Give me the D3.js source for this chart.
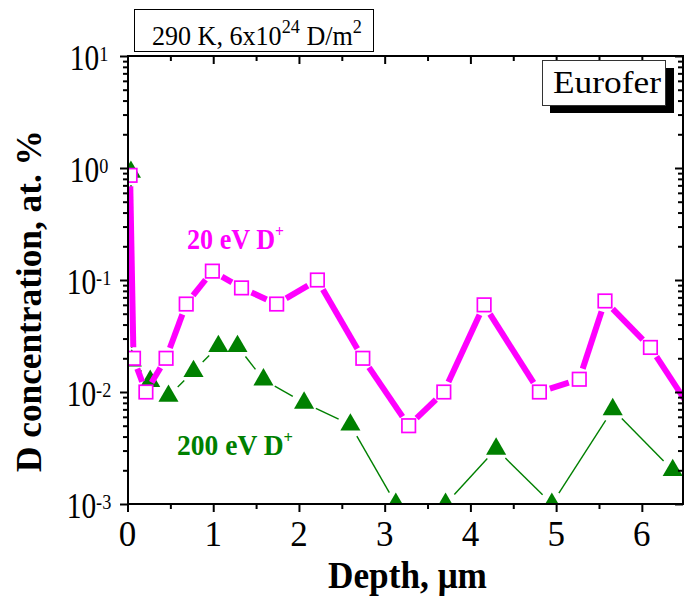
<!DOCTYPE html>
<html>
<head>
<meta charset="utf-8">
<script src="https://cdn.jsdelivr.net/npm/d3@7"></script>
<style>
  body { margin: 0; background: #fff; }
  svg { display: block; }
</style>
</head>
<body>
<svg id="chart" width="684" height="603"></svg>
<script>
// Deuterium depth profiles in Eurofer, 290 K, 6x10^24 D/m^2
const depth20 = [0.03, 0.07, 0.215, 0.45, 0.685, 0.99, 1.33, 1.74, 2.215, 2.745, 3.28, 3.69, 4.16, 4.805, 5.27, 5.57, 6.10, 6.65];
const conc20  = [0.86, 0.020, 0.010, 0.020, 0.061, 0.12, 0.085, 0.061, 0.10, 0.020, 0.005, 0.010, 0.060, 0.010, 0.013, 0.065, 0.025, 0.0057];

const depth200 = [0.04, 0.05, 0.265, 0.478, 0.77, 1.06, 1.283, 1.586, 2.06, 2.60, 3.13, 3.71, 4.30, 4.95, 5.66, 6.36];
const conc200  = [0.92, 0.019, 0.0125, 0.0092, 0.0153, 0.0256, 0.0256, 0.0129, 0.0080, 0.0051, 0.0010, 0.0010, 0.0031, 0.0010, 0.0070, 0.0020];

const xTicks = [0, 1, 2, 3, 4, 5, 6];
const xMinorTicks = [0.5, 1.5, 2.5, 3.5, 4.5, 5.5, 6.5];
const yTickExponents = [-3, -2, -1, 0, 1];

const xTitle = "Depth, \u03bcm";
const yTitle = "D concentration, at. %";
const conditionsLabel = [{t: "290 K, 6x10"}, {t: "24", sup: true}, {t: " D/m"}, {t: "2", sup: true}];
const materialLabel = "Eurofer";
const label20 = [{t: "20 eV D"}, {t: "+", sup: true}];
const label200 = [{t: "200 eV D"}, {t: "+", sup: true}];

const MAGENTA = "#ff00ff";
const GREEN = "#008000";
const SERIF = "'Liberation Serif', 'Times New Roman', serif";

const svg = d3.select("#chart");
const plot = {left: 128, right: 683, top: 56, bottom: 504};

const x = d3.scaleLinear().domain([0, 6.48]).range([127.5, 683]);
const y = d3.scaleLog().domain([1e-3, 10]).range([plot.bottom, plot.top]);

// text helper: builds a label from plain / superscript parts and fits it to a width
function label(parent, parts, opt) {
  const size = opt.size;
  const g = parent.append("g");
  const t = g.append("text")
    .attr("font-family", SERIF)
    .attr("font-size", size)
    .attr("font-weight", opt.weight || "normal")
    .attr("fill", opt.fill || "#000");
  let shift = 0;
  parts.forEach(p => {
    const target = p.sup ? -(opt.supShift || 0.42) * size : 0;
    t.append("tspan")
      .attr("font-size", p.sup ? size * (opt.supScale || 0.62) : size)
      .attr("dy", target - shift)
      .text(p.t);
    shift = target;
  });
  const w = t.node().getComputedTextLength();
  const s = opt.width ? opt.width / w : (opt.sx || 1);
  let left;
  if (opt.anchor === "middle") left = opt.x - (w * s) / 2;
  else if (opt.anchor === "end") left = opt.x - w * s;
  else left = opt.x;
  if (opt.rotate) {
    g.attr("transform", `translate(${opt.x},${opt.y}) rotate(${opt.rotate}) translate(${-(w * s) / 2},0) scale(${s},1)`);
  } else {
    g.attr("transform", `translate(${left},${opt.y}) scale(${s},1)`);
  }
  return g;
}

// clip region for the data
svg.append("defs").append("clipPath").attr("id", "plotClip")
  .append("rect")
  .attr("x", plot.left).attr("y", plot.top)
  .attr("width", plot.right - plot.left).attr("height", plot.bottom - plot.top);

const dataLayer = svg.append("g").attr("clip-path", "url(#plotClip)");

// connecting segments that stop short of each marker
function gappedSegments(xs, ys, gap) {
  const pts = xs.map((d, i) => [x(d), y(ys[i])]);
  const segs = [];
  for (let i = 0; i < pts.length - 1; i++) {
    const [x0, y0] = pts[i], [x1, y1] = pts[i + 1];
    const dx = x1 - x0, dy = y1 - y0, L = Math.hypot(dx, dy);
    if (L <= 2 * gap) continue;
    const ux = dx / L, uy = dy / L;
    segs.push([x0 + ux * gap, y0 + uy * gap, x1 - ux * gap, y1 - uy * gap]);
  }
  return segs;
}

// 200 eV series
dataLayer.append("g").selectAll("line")
  .data(gappedSegments(depth200, conc200, 13))
  .join("line")
  .attr("x1", d => d[0]).attr("y1", d => d[1])
  .attr("x2", d => d[2]).attr("y2", d => d[3])
  .attr("stroke", GREEN).attr("stroke-width", 1.4);

dataLayer.append("g").selectAll("path")
  .data(depth200.map((d, i) => [d, conc200[i]]))
  .join("path")
  .attr("transform", d => `translate(${x(d[0])},${y(d[1])})`)
  .attr("d", d3.symbol(d3.symbolTriangle, 175))
  .attr("fill", GREEN);

// 20 eV series
dataLayer.append("g").selectAll("line")
  .data(gappedSegments(depth20, conc20, 11))
  .join("line")
  .attr("x1", d => d[0]).attr("y1", d => d[1])
  .attr("x2", d => d[2]).attr("y2", d => d[3])
  .attr("stroke", MAGENTA).attr("stroke-width", 6);

const SQ = 13.5;
dataLayer.append("g").selectAll("rect")
  .data(depth20.map((d, i) => [d, conc20[i]]))
  .join("rect")
  .attr("x", d => x(d[0]) - SQ / 2).attr("y", d => y(d[1]) - SQ / 2)
  .attr("width", SQ).attr("height", SQ)
  .attr("fill", "#fff").attr("stroke", MAGENTA).attr("stroke-width", 1.7);

// axes
const minorY = [];
for (let e = -3; e < 1; e++) for (let m = 2; m <= 9; m++) minorY.push(m * Math.pow(10, e));
const majorY = yTickExponents.map(e => Math.pow(10, e));

function styleAxis(g) {
  g.select(".domain").remove();
  g.selectAll("line").attr("stroke", "#000").attr("stroke-width", 2);
  g.selectAll("text").remove();
}

svg.append("g").attr("transform", `translate(0,${plot.bottom})`)
  .call(d3.axisBottom(x).tickValues(xTicks).tickSize(8).tickSizeOuter(0)).call(styleAxis);
svg.append("g").attr("transform", `translate(0,${plot.bottom})`)
  .call(d3.axisBottom(x).tickValues(xMinorTicks.filter(v => x(v) < plot.right)).tickSize(5).tickSizeOuter(0)).call(styleAxis);
svg.append("g").attr("transform", `translate(0,${plot.top})`)
  .call(d3.axisTop(x).tickValues(xTicks).tickSize(-8).tickSizeOuter(0)).call(styleAxis);
svg.append("g").attr("transform", `translate(0,${plot.top})`)
  .call(d3.axisTop(x).tickValues(xMinorTicks.filter(v => x(v) < plot.right)).tickSize(-5).tickSizeOuter(0)).call(styleAxis);

svg.append("g").attr("transform", `translate(${plot.left},0)`)
  .call(d3.axisLeft(y).tickValues(majorY).tickSize(8).tickSizeOuter(0)).call(styleAxis);
svg.append("g").attr("transform", `translate(${plot.left},0)`)
  .call(d3.axisLeft(y).tickValues(minorY).tickSize(5).tickSizeOuter(0)).call(styleAxis);
svg.append("g").attr("transform", `translate(${plot.right},0)`)
  .call(d3.axisRight(y).tickValues(majorY).tickSize(-8).tickSizeOuter(0)).call(styleAxis);
svg.append("g").attr("transform", `translate(${plot.right},0)`)
  .call(d3.axisRight(y).tickValues(minorY).tickSize(-5).tickSizeOuter(0)).call(styleAxis);

// frame
svg.append("rect")
  .attr("x", plot.left).attr("y", plot.top)
  .attr("width", plot.right - plot.left).attr("height", plot.bottom - plot.top)
  .attr("fill", "none").attr("stroke", "#000").attr("stroke-width", 2);

// tick labels
xTicks.forEach(v => {
  label(svg, [{t: String(v)}], {x: x(v), y: 546, size: 35, anchor: "middle"});
});
yTickExponents.forEach(e => {
  label(svg, [{t: "10"}, {t: String(e), sup: true}],
    {x: 89, y: y(Math.pow(10, e)) + 14, size: 35, anchor: "middle", sx: 0.84, supScale: 0.62, supShift: 0.26});
});

// axis titles
label(svg, [{t: xTitle}], {x: 328, y: 588, size: 37, weight: "bold", width: 159});
label(svg, [{t: yTitle}], {x: 41, y: 301, size: 35, weight: "bold", width: 342, rotate: -90});

// series labels
label(svg, label20, {x: 187, y: 249, size: 29, weight: "bold", fill: MAGENTA, width: 97, supShift: 0.4, supScale: 0.6});
label(svg, label200, {x: 177, y: 455, size: 29, weight: "bold", fill: GREEN, width: 116, supShift: 0.4, supScale: 0.6});

// conditions box
svg.append("rect")
  .attr("x", 134.5).attr("y", 9.5).attr("width", 239).attr("height", 42)
  .attr("fill", "#fff").attr("stroke", "#000").attr("stroke-width", 1);
label(svg, conditionsLabel, {x: 152, y: 45, size: 27, width: 210, supScale: 0.7, supShift: 0.46});

// material box with drop shadow
svg.append("rect")
  .attr("x", 550).attr("y", 68).attr("width", 124).attr("height", 45)
  .attr("fill", "#000");
svg.append("rect")
  .attr("x", 542.5).attr("y", 60.5).attr("width", 123).attr("height", 45)
  .attr("fill", "#fff").attr("stroke", "#333").attr("stroke-width", 1);
label(svg, [{t: materialLabel}], {x: 553, y: 93, size: 31, width: 108});
</script>
</body>
</html>
